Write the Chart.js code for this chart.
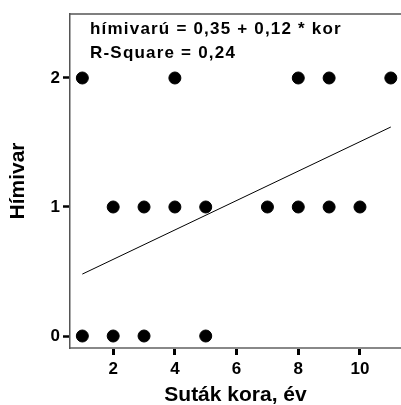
<!DOCTYPE html>
<html>
<head>
<meta charset="utf-8">
<script src="https://cdn.jsdelivr.net/npm/chart.js@4"></script>
<style>
  body { margin: 0; background: #fff; }
  #wrap { width: 401px; height: 405px; }
</style>
</head>
<body>
<div id="wrap"><canvas id="chart"></canvas></div>
<script>
// observations (age of the kid, number of males)
const korValues = [1, 4, 8, 9, 11, 2, 3, 4, 5, 7, 8, 9, 10, 1, 2, 3, 5];
const himivarValues = [2, 2, 2, 2, 2, 1, 1, 1, 1, 1, 1, 1, 1, 0, 0, 0, 0];

// fitted line ends
const fitKor = [1, 11];
const fitHimivar = [0.48, 1.62];

const xTicks = [2, 4, 6, 8, 10];
const yTicks = [0, 1, 2];
const fitLabels = ["hímivarú = 0,35 + 0,12 * kor", "R-Square = 0,24"];

const FONT = "'Liberation Sans', Arial, sans-serif";

// equation text + top border of the frame
const annotate = {
  id: "annotate",
  afterDraw(chart) {
    const { ctx, chartArea } = chart;
    ctx.save();
    ctx.strokeStyle = "#555";
    ctx.lineWidth = 1.5;
    ctx.beginPath();
    ctx.moveTo(chartArea.left, chartArea.top);
    ctx.lineTo(chartArea.right, chartArea.top);
    ctx.stroke();

    ctx.fillStyle = "#000";
    ctx.font = "bold 17px " + FONT;
    ctx.letterSpacing = "1.2px";
    ctx.textBaseline = "alphabetic";
    ctx.fillText(fitLabels[0], 90, 34);
    ctx.fillText(fitLabels[1], 90, 58);
    ctx.restore();
  },
};

const points = korValues.map((k, i) => ({ x: k, y: himivarValues[i] }));
const fitLine = fitKor.map((k, i) => ({ x: k, y: fitHimivar[i] }));

new Chart(document.getElementById("chart"), {
  type: "scatter",
  data: {
    datasets: [
      {
        data: fitLine,
        showLine: true,
        borderColor: "#000",
        borderWidth: 1,
        pointRadius: 0,
      },
      {
        data: points,
        backgroundColor: "#000",
        borderColor: "#000",
        pointRadius: 6,
        pointHoverRadius: 6,
      },
    ],
  },
  options: {
    responsive: true,
    maintainAspectRatio: false,
    animation: false,
    layout: { autoPadding: false, padding: { top: 14, left: 0, right: 0, bottom: 0 } },
    plugins: {
      legend: { display: false },
      tooltip: { enabled: false },
    },
    scales: {
      x: {
        type: "linear",
        min: 0.6,
        max: 11.33,
        afterBuildTicks: (s) => {
          s.ticks = xTicks.map((v) => ({ value: v }));
        },
        afterFit: (s) => {
          s.height = 57;
        },
        grid: {
          drawOnChartArea: false,
          tickLength: 7,
          tickWidth: 3,
          tickColor: "#000",
        },
        border: { color: "#888", width: 2 },
        ticks: {
          color: "#000",
          padding: 4,
          font: { family: FONT, size: 17, weight: "bold" },
        },
        title: {
          display: true,
          text: "Suták kora, év",
          color: "#000",
          padding: 0,
          font: { family: FONT, size: 21, weight: "bold", lineHeight: 0.9 },
        },
      },
      y: {
        type: "linear",
        min: -0.093,
        max: 2.496,
        afterBuildTicks: (s) => {
          s.ticks = yTicks.map((v) => ({ value: v }));
        },
        afterFit: (s) => {
          s.width = 70;
        },
        grid: {
          drawOnChartArea: false,
          tickLength: 7,
          tickWidth: 2.5,
          tickColor: "#000",
        },
        border: { color: "#555", width: 1.5 },
        ticks: {
          color: "#000",
          padding: 3,
          font: { family: FONT, size: 17, weight: "bold" },
        },
        title: {
          display: true,
          text: "Hímivar",
          color: "#000",
          padding: { top: 6, bottom: 0 },
          font: { family: FONT, size: 21, weight: "bold", lineHeight: 1.2 },
        },
      },
    },
  },
  plugins: [annotate],
});
</script>
</body>
</html>
